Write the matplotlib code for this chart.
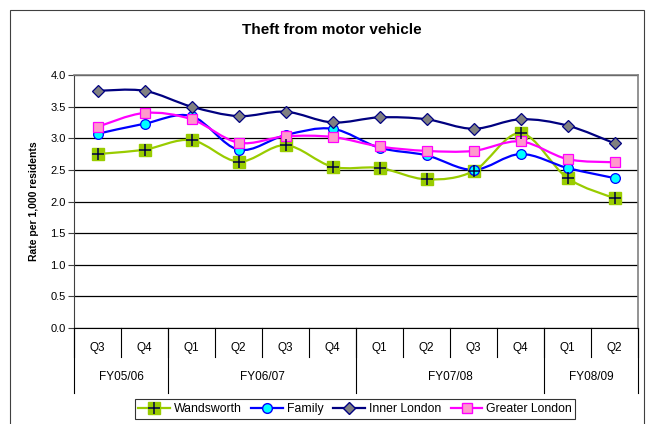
import numpy as np
import matplotlib.pyplot as plt
from matplotlib.path import Path
from matplotlib.patches import PathPatch, Rectangle
from matplotlib.lines import Line2D
from matplotlib.legend_handler import HandlerTuple
import matplotlib.transforms as mtransforms

# data
quarters = ['Q3', 'Q4', 'Q1', 'Q2', 'Q3', 'Q4', 'Q1', 'Q2', 'Q3', 'Q4', 'Q1', 'Q2']
years = ['FY05/06', 'FY06/07', 'FY07/08', 'FY08/09']
year_sizes = [2, 4, 4, 2]

wandsworth = [2.75, 2.82, 2.97, 2.63, 2.89, 2.55, 2.53, 2.35, 2.48, 3.08, 2.37, 2.05]
family = [3.07, 3.23, 3.35, 2.82, 3.05, 3.15, 2.85, 2.73, 2.50, 2.75, 2.53, 2.37]
inner_london = [3.75, 3.75, 3.50, 3.35, 3.42, 3.25, 3.33, 3.30, 3.15, 3.30, 3.20, 2.92]
greater_london = [3.18, 3.40, 3.30, 2.93, 3.03, 3.02, 2.87, 2.80, 2.80, 2.95, 2.67, 2.62]


def smooth_path(x, y):
    # Excel-like smoothed line (catmull-rom as cubic bezier)
    p = np.column_stack([x, y]).astype(float)
    n = len(p)
    verts = [p[0]]
    codes = [Path.MOVETO]
    for i in range(n - 1):
        p0 = p[i - 1] if i > 0 else p[i]
        p3 = p[i + 2] if i + 2 < n else p[i + 1]
        c1 = p[i] + (p[i + 1] - p0) / 6.0
        c2 = p[i + 1] - (p3 - p[i]) / 6.0
        verts += [c1, c2, p[i + 1]]
        codes += [Path.CURVE4] * 3
    return Path(verts, codes)


fig = plt.figure(figsize=(6.48, 4.24), dpi=100)
W, H = 648, 424
ax = fig.add_axes([74 / W, 1 - 328 / H, (638 - 74) / W, (328 - 75) / H])

# outer chart frame
fig.patches.append(Rectangle((10 / W, -0.05), (644 - 10) / W, (1 - 10 / H) + 0.05,
                             transform=fig.transFigure, fill=False,
                             edgecolor='#404040', linewidth=0.8))

x = np.arange(len(quarters))

series = [
    (wandsworth, '#99CC00', 'Wandsworth'),
    (family, '#0000FF', 'Family'),
    (inner_london, '#000080', 'Inner London'),
    (greater_london, '#FF00FF', 'Greater London'),
]
for vals, col, name in series:
    ax.add_patch(PathPatch(smooth_path(x, vals), fill=False, edgecolor=col,
                           linewidth=1.6, zorder=3))

ax.plot(x, wandsworth, linestyle='none', marker='s', markersize=9,
        markerfacecolor='#99CC00', markeredgecolor='#99CC00', zorder=4)
ax.plot(x, wandsworth, linestyle='none', marker='+', markersize=9,
        markeredgecolor='#000040', markeredgewidth=1.1, zorder=5)
ax.plot(x, family, linestyle='none', marker='o', markersize=7,
        markerfacecolor='#00FFFF', markeredgecolor='#0000FF', markeredgewidth=0.9, zorder=4)
ax.plot(x, inner_london, linestyle='none', marker='D', markersize=6,
        markerfacecolor='#808080', markeredgecolor='#000080', markeredgewidth=0.9, zorder=4)
ax.plot(x, greater_london, linestyle='none', marker='s', markersize=7,
        markerfacecolor='#FF99CC', markeredgecolor='#FF00FF', markeredgewidth=0.9, zorder=4)

ax.set_xlim(-0.5, len(quarters) - 0.5)
ax.set_ylim(0, 4.0)
ax.set_yticks(np.arange(0, 4.01, 0.5))
ax.set_yticklabels(['%.1f' % v for v in np.arange(0, 4.01, 0.5)], fontsize=8,
                   family='Liberation Sans')
ax.tick_params(axis='y', length=4, width=0.8, color='#404040', pad=2)
ax.set_xticks([])
ax.grid(axis='y', color='black', linewidth=0.9)
ax.set_axisbelow(True)
for s in ['top', 'right']:
    ax.spines[s].set_color('#808080')
    ax.spines[s].set_linewidth(1.2)
ax.spines['left'].set_color('#404040')
ax.spines['bottom'].set_color('black')

ax.set_ylabel('Rate per 1,000 residents', fontsize=7.5, fontweight='bold',
              family='Liberation Sans', labelpad=8)
fig.text(332 / W, 1 - 30 / H, 'Theft from motor vehicle', ha='center', va='center',
         fontsize=11, fontweight='bold', family='Liberation Sans')

# multi-level category axis
trans = mtransforms.blended_transform_factory(ax.transData, ax.transAxes)
axh = 328 - 75
for i, q in enumerate(quarters):
    ax.text(i, -20 / axh, q, transform=trans, ha='center', va='center', fontsize=8.5,
            family='Liberation Sans')
for k in range(len(quarters) + 1):
    ax.add_line(Line2D([k - 0.5, k - 0.5], [0, -29 / axh], transform=trans,
                       color='black', linewidth=0.8, clip_on=False))
start = 0
for yr, n in zip(years, year_sizes):
    ax.text(start + n / 2 - 0.5, -49 / axh, yr, transform=trans, ha='center',
            va='center', fontsize=8.5, family='Liberation Sans')
    start += n
bounds = np.cumsum([0] + year_sizes) - 0.5
for b in bounds:
    ax.add_line(Line2D([b, b], [0, -65 / axh], transform=trans,
                       color='black', linewidth=0.8, clip_on=False))

# legend
h_w = (Line2D([], [], color='#99CC00', linewidth=1.6, marker='s', markersize=9,
              markerfacecolor='#99CC00', markeredgecolor='#99CC00'),
       Line2D([], [], linestyle='none', marker='+', markersize=9,
              markeredgecolor='#000040', markeredgewidth=1.1))
h_f = Line2D([], [], color='#0000FF', linewidth=1.6, marker='o', markersize=7,
             markerfacecolor='#00FFFF', markeredgecolor='#0000FF')
h_i = Line2D([], [], color='#000080', linewidth=1.6, marker='D', markersize=6,
             markerfacecolor='#808080', markeredgecolor='#000080')
h_g = Line2D([], [], color='#FF00FF', linewidth=1.6, marker='s', markersize=7,
             markerfacecolor='#FF99CC', markeredgecolor='#FF00FF')
leg = fig.legend([h_w, h_f, h_i, h_g], [s[2] for s in series], ncol=4,
                 loc='center', bbox_to_anchor=(355 / W, 1 - 409 / H),
                 handler_map={tuple: HandlerTuple(ndivide=1)},
                 prop={'family': 'Liberation Sans', 'size': 8.8},
                 frameon=True, fancybox=False, edgecolor='black',
                 handlelength=2.6, handletextpad=0.3, columnspacing=0.8,
                 borderpad=0.3, borderaxespad=0)
leg.get_frame().set_linewidth(0.8)

fig.savefig('out.png', dpi=100)
